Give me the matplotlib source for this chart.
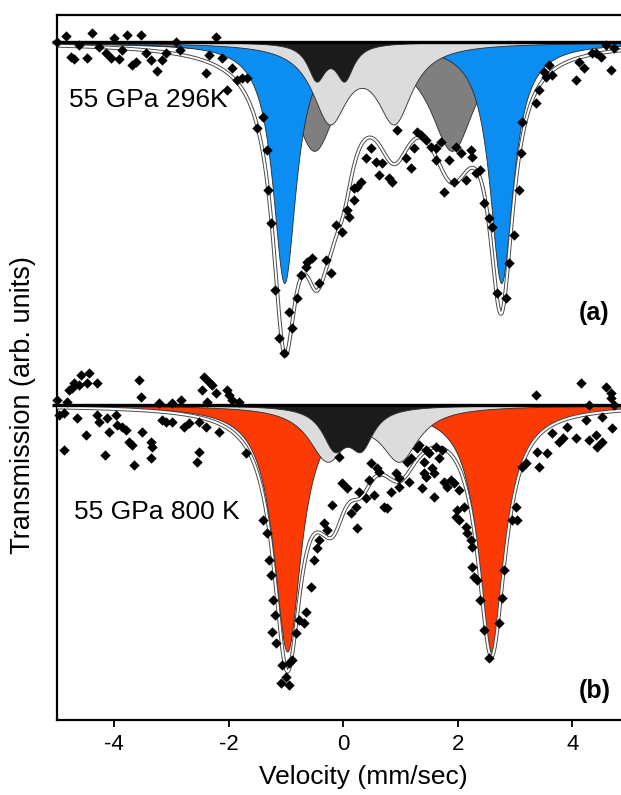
import numpy as np
import matplotlib
matplotlib.use("Agg")
import matplotlib.pyplot as plt

plt.rcParams["font.family"] = ["Liberation Sans", "DejaVu Sans"]

# ── spectrum (a): 55 GPa, 296 K ─────────────────────────────────────────────
# measured points: velocity (mm/s) and transmission relative to the baseline
A_VEL = [-5.00, -4.84, -4.61, -4.38, -4.26, -4.00, -3.77, -3.53, -4.75, -4.70,
         -4.47, -4.14, -4.05, -3.91, -3.86, -3.69, -3.62, -3.44, -3.35, -3.25,
         -3.16, -3.09, -2.92, -2.86, -2.39, -2.34, -2.22, -2.11, -1.94, -1.85,
         -1.76, -1.68, -2.03, -1.41, -1.50, -1.34, -1.31, -1.26, -1.19, -1.12,
         -1.03, -0.89, -0.94, -0.80, -0.73, -0.63, -0.54, -0.42, -0.65, -0.30,
         -0.21, -0.12, -0.02, 0.10, 0.19, 0.07, 0.31, 0.19, 0.24, 0.40,
         0.49, 0.58, 0.68, 0.63, 0.80, 0.86, 0.94, 1.10, 1.19, 1.24,
         1.29, 1.36, 1.45, 1.54, 1.62, 1.62, 1.71, 1.85, 1.97, 2.06,
         2.24, 2.25, 2.38, 2.32, 2.15, 1.94, 1.76, 2.46, 2.55, 2.60,
         2.69, 2.85, 2.90, 2.99, 3.07, 3.11, 3.13, 3.37, 3.42, 3.55,
         3.65, 3.51, 3.60, 4.12, 4.21, 4.07, 4.35, 4.51, 4.68, 4.73,
         4.42, 4.59]
A_TRANS = [0.00, 0.06, -0.03, 0.09, -0.05, 0.04, 0.07, 0.07, -0.15, -0.17,
           -0.16, -0.11, -0.16, -0.17, -0.08, -0.23, -0.20, -0.11, -0.18, -0.29,
           -0.18, -0.11, 0.00, -0.08, -0.31, -0.13, 0.05, -0.16, -0.26, -0.38,
           -0.36, -0.36, -0.48, -0.75, -0.86, -1.08, -1.48, -1.81, -2.48, -2.96,
           -3.11, -2.86, -2.70, -2.56, -2.33, -2.20, -2.16, -2.41, -2.25, -2.18,
           -2.31, -1.83, -1.90, -1.75, -1.58, -1.68, -1.40, -1.46, -1.45, -1.16,
           -1.06, -1.20, -1.21, -1.33, -1.36, -1.40, -0.88, -1.16, -1.26, -1.06,
           -0.90, -0.93, -0.98, -1.05, -1.06, -1.18, -1.00, -1.18, -1.05, -1.11,
           -1.08, -1.15, -1.28, -1.31, -1.38, -1.40, -1.50, -1.61, -1.76, -1.85,
           -2.51, -2.56, -2.21, -1.93, -1.48, -1.11, -0.80, -0.61, -0.48, -0.35,
           -0.33, -0.30, -0.23, -0.20, -0.26, -0.38, -0.11, -0.15, -0.28, -0.06,
           -0.11, -0.03]
# fitted sub-spectra (quadrupole doublets): line centres, depth, half width
A_CENTRES = [(-0.51, 1.90), (-1.03, 2.76), (-0.24, 0.89), (-0.47, 0.02)]
A_DEPTHS = [1.05, 2.40, 0.75, 0.35]
A_HWHM = [0.47, 0.25, 0.375, 0.19]

# ── spectrum (b): 55 GPa, 800 K ─────────────────────────────────────────────
B_VEL = [-5.00, -4.82, -4.61, -4.47, -4.31, -4.73, -4.96, -4.87, -4.65, -4.49,
         -4.87, -4.31, -4.26, -4.12, -4.09, -3.97, -3.95, -3.86, -3.79, -4.17,
         -3.74, -3.69, -3.65, -3.53, -3.56, -3.51, -3.35, -3.34, -3.35, -3.21,
         -3.16, -3.09, -3.00, -2.99, -2.83, -2.78, -2.69, -2.52, -2.55, -2.52,
         -2.39, -2.38, -2.46, -2.29, -2.22, -2.17, -1.99, -1.94, -1.82, -1.69,
         -1.41, -1.34, -1.29, -4.58, -4.44, -4.70, -4.79, -2.43, -2.34, -2.03,
         -1.24, -1.17, -1.07, -0.94, -0.89, -1.08, -0.94, -1.00, -0.82, -0.77,
         -0.65, -0.56, -0.68, -1.26, -1.22, -1.19, -0.07, 0.49, 0.59, 0.63,
         0.45, 0.28, -0.02, 0.07, -0.19, 0.14, 0.23, 0.40, 0.54, 0.24,
         -0.33, -0.28, -0.42, -0.45, -0.51, 0.77, 0.72, 0.84, 0.98, 0.93,
         1.12, 1.19, 1.28, 1.33, 1.45, 1.50, 1.62, 1.68, 1.73, 1.41,
         1.55, 1.59, 1.41, 1.45, 1.15, 0.98, 1.38, 1.59, 1.76, 1.89,
         1.94, 2.03, 1.99, 1.97, 2.03, 2.11, 2.15, 2.17, 2.24, 2.25,
         2.25, 2.29, 1.82, 3.02, 2.95, 3.04, 3.13, 3.20, 3.39, 3.42,
         3.56, 3.65, 3.83, 3.77, 3.90, 4.07, 4.24, 4.30, 4.42, 4.44,
         4.52, 4.70, 4.52, 4.30, 4.68, 4.73, 4.59, 4.68, 4.16, 3.37,
         2.34, 2.38, 2.55, 2.78, 2.72, 2.46, 2.81]
B_TRANS = [0.05, 0.03, 0.20, 0.22, 0.22, 0.17, -0.10, -0.08, -0.13, -0.30,
           -0.45, -0.10, -0.17, -0.13, -0.27, -0.10, -0.20, -0.22, -0.25, -0.50,
           -0.37, -0.40, -0.60, 0.08, 0.25, -0.27, -0.37, -0.42, -0.53, 0.02,
           -0.15, -0.17, -0.17, 0.02, 0.05, -0.22, -0.18, -0.47, -0.57, -0.17,
           -0.22, 0.03, 0.15, 0.20, 0.12, -0.27, 0.10, 0.05, 0.03, -0.48,
           -1.15, -1.28, -1.55, 0.30, 0.32, 0.22, 0.15, 0.28, 0.23, 0.15,
           -2.27, -2.38, -2.60, -2.58, -2.55, -2.78, -2.80, -2.72, -2.28, -2.15,
           -2.07, -1.82, -2.18, -1.70, -1.95, -2.10, -0.52, -0.58, -0.63, -0.67,
           -0.75, -0.87, -0.78, -0.83, -1.00, -1.08, -1.02, -0.93, -0.90, -1.23,
           -1.18, -1.25, -1.35, -1.43, -1.55, -1.03, -1.02, -0.87, -0.73, -0.68,
           -0.57, -0.53, -0.43, -0.40, -0.45, -0.48, -0.42, -0.53, -0.45, -0.57,
           -0.63, -0.68, -0.68, -0.72, -0.77, -0.82, -0.83, -0.92, -0.77, -0.75,
           -0.78, -0.85, -1.05, -1.12, -1.15, -1.02, -1.22, -1.28, -1.35, -1.42,
           -1.62, -1.72, -0.82, -1.02, -1.15, -1.15, -0.62, -0.58, -0.47, -0.62,
           -0.48, -0.28, -0.33, -0.37, -0.22, -0.33, -0.15, -0.35, -0.30, -0.42,
           -0.37, -0.23, -0.12, 0.00, 0.07, 0.00, 0.18, 0.12, 0.22, 0.10,
           -1.75, -1.95, -2.53, -1.93, -2.18, -2.25, -1.65]
B_CENTRES = [(-0.98, 2.59), (-0.28, 0.98), (-0.16, 0.31)]
B_DEPTHS = [2.45, 0.52, 0.38]
B_HWHM = [0.29, 0.40, 0.26]

# ── style ──────────────────────────────────────────────────────────────────
A_COLORS = ["#7F7F7F", "#0B8DF1", "#DCDCDC", "#1B1B1B"]   # back to front
B_COLORS = ["#FB3A06", "#DCDCDC", "#1B1B1B"]
A_BASE, B_BASE = 6.78, 3.15          # vertical offsets of the two spectra
V = np.linspace(-5.1, 5.0, 1500)


def doublet(v, centres, depth, hwhm):
    out = np.zeros_like(v)
    for c in centres:
        out += depth / (1 + ((v - c) / hwhm) ** 2)
    return out


def draw_spectrum(ax, base, vel, trans, centres, depths, hwhm, colors):
    total = np.zeros_like(V)
    for cen, d, w, col in zip(centres, depths, hwhm, colors):
        comp = doublet(V, cen, d, w)
        total += comp
        ax.fill_between(V, base, base - comp, facecolor=col,
                        edgecolor="#2B2B2B", linewidth=0.6, zorder=2)
    # envelope drawn as a thin double line
    ax.plot(V, base - total, color="#4A4A4A", lw=2.8, zorder=3)
    ax.plot(V, base - total, color="white", lw=1.4, zorder=3.1)
    ax.plot([-5.08, 5.0], [base, base], color="black", lw=2.4,
            clip_on=False, zorder=4, solid_capstyle="butt")
    ax.scatter(vel, base + np.asarray(trans), marker="D", s=28,
               color="black", linewidths=0, zorder=5, clip_on=False)


fig = plt.figure(figsize=(6.21, 7.95), dpi=100)
ax = fig.add_axes([57 / 621, 75 / 795, 572.5 / 621, 705 / 795])

draw_spectrum(ax, A_BASE, A_VEL, A_TRANS, A_CENTRES, A_DEPTHS, A_HWHM, A_COLORS)
draw_spectrum(ax, B_BASE, B_VEL, B_TRANS, B_CENTRES, B_DEPTHS, B_HWHM, B_COLORS)

ax.set_xlim(-5.0, 5.0)
ax.set_ylim(0, 7.05)
ax.set_xticks([-4, -2, 0, 2, 4])
ax.set_xticklabels(["-4", "-2", "0", "2", "4"])
ax.set_yticks([])
ax.tick_params(axis="x", direction="out", length=5, width=1.3,
               labelsize=16, pad=5)
for spine in ax.spines.values():
    spine.set_linewidth(1.6)

ax.text(-4.79, 6.20, "55 GPa 296K", fontsize=19, ha="left", va="center", zorder=6)
ax.text(-4.70, 2.08, "55 GPa 800 K", fontsize=19, ha="left", va="center", zorder=6)
ax.text(4.65, 4.07, "(a)", fontsize=18, fontweight="bold", ha="right", va="center")
ax.text(4.68, 0.29, "(b)", fontsize=18, fontweight="bold", ha="right", va="center")

fig.text(23 / 621, 1 - 405 / 795, "Transmission (arb. units)", rotation=90,
         fontsize=19.5, ha="center", va="center")
fig.text(363 / 621, 1 - 777 / 795, "Velocity (mm/sec)", fontsize=19,
         ha="center", va="center")

fig.savefig("out.png", dpi=100)
